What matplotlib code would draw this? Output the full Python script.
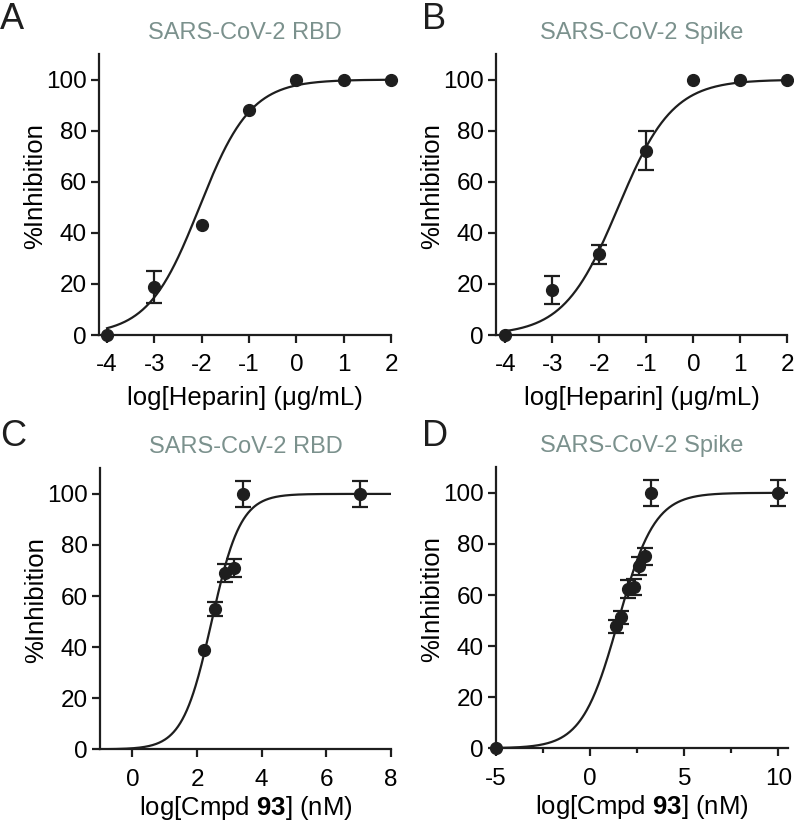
import numpy as np
import matplotlib
matplotlib.use("Agg")
import matplotlib.pyplot as plt

plt.rcParams["font.family"] = ["Liberation Sans", "DejaVu Sans"]
plt.rcParams["mathtext.fontset"] = "custom"
plt.rcParams["mathtext.rm"] = "Liberation Sans"
plt.rcParams["mathtext.bf"] = "Liberation Sans:bold"
plt.rcParams["axes.unicode_minus"] = False

# ==========================================================
# Data
# ==========================================================

# A: heparin vs RBD
hep_x          = [-4, -3, -2, -1, 0, 1, 2]
hep_rbd_y      = [0, 18.9, 43, 88, 100, 100, 100]
hep_rbd_err    = [0, 6.3, 0, 0, 0, 0, 0]
hep_rbd_fit    = (-2.05, 0.80)     # logIC50, hill slope

# B: heparin vs Spike
hep_spike_y    = [0, 17.6, 31.7, 72.2, 100, 100, 100]
hep_spike_err  = [0, 5.5, 3.7, 7.5, 0, 0, 0]
hep_spike_fit  = (-1.60, 0.75)

# C: compound 93 vs RBD
cmpd_rbd_x     = [2.22, 2.55, 2.85, 3.14, 3.43, 7.04]
cmpd_rbd_y     = [38.7, 55, 69, 71, 100, 100]
cmpd_rbd_err   = [0, 2.8, 3.4, 3.7, 5, 5]
cmpd_rbd_fit   = (2.45, 0.97)

# D: compound 93 vs Spike
cmpd_spike_x   = [-5, 1.37, 1.65, 2.0, 2.31, 2.61, 2.93, 3.23, 10]
cmpd_spike_y   = [0, 47.7, 51.3, 62.3, 63.2, 71.4, 75.1, 100, 100]
cmpd_spike_err = [0, 2.5, 2.5, 3.5, 3.0, 3.5, 3.5, 5, 5]
cmpd_spike_fit = (1.50, 0.45)

TITLE_RBD   = "SARS-CoV-2 RBD"
TITLE_SPIKE = "SARS-CoV-2 Spike"
XLAB_HEP    = "log[Heparin] (μg/mL)"
XLAB_CMPD   = r"log[Cmpd $\mathbf{93}$] (nM)"
YLAB        = "%Inhibition"

INK         = "#1e1e1e"
TITLE_COLOR = "#7b918d"


def logistic(x, logic50, hill):
    return 100.0 / (1.0 + 10 ** ((logic50 - x) * hill))


def panel(ax, x, y, err, fit, xlim, curve_from, xticks, title, xlabel,
          minor=None, xlabelpad=7):
    xs = np.linspace(curve_from, xlim[1], 400)
    ax.plot(xs, logistic(xs, *fit), color=INK, lw=1.6, zorder=2)

    x, y, err = np.asarray(x), np.asarray(y), np.asarray(err)
    has_err = err > 0
    ax.errorbar(x[has_err], y[has_err], yerr=err[has_err], fmt="none", ecolor=INK,
                capsize=5.5, elinewidth=1.6, capthick=1.6, clip_on=False, zorder=3)
    ax.plot(x, y, "o", color=INK, ms=8.5, clip_on=False, zorder=4)

    ax.set_xlim(*xlim)
    ax.set_ylim(0, 110)
    ax.set_xticks(xticks)
    if minor is not None:
        ax.set_xticks(minor, minor=True)
    ax.set_yticks([0, 20, 40, 60, 80, 100])

    for s in ["top", "right"]:
        ax.spines[s].set_visible(False)
    for s in ["left", "bottom"]:
        ax.spines[s].set_linewidth(1.6)
        ax.spines[s].set_color(INK)
    ax.tick_params(axis="both", which="major", direction="out", length=6,
                   width=1.6, color=INK, labelsize=17.5)
    ax.tick_params(axis="x", which="major", pad=8)
    ax.tick_params(axis="y", which="major", pad=3)
    ax.tick_params(axis="x", which="minor", direction="out", length=3.5,
                   width=1.6, color=INK)

    ax.set_title(title, fontsize=17, color=TITLE_COLOR, pad=11)
    ax.set_xlabel(xlabel, fontsize=18.5, labelpad=xlabelpad)
    ax.set_ylabel(YLAB, fontsize=18.5)
    ax.yaxis.set_label_coords(-0.178, 0.532)


fig = plt.figure(figsize=(7.94, 8.23), dpi=100)

axA = fig.add_axes([0.1247, 0.5929, 0.3678, 0.3414])
axB = fig.add_axes([0.6247, 0.5929, 0.3669, 0.3414])
axC = fig.add_axes([0.1260, 0.0895, 0.3665, 0.3414])
axD = fig.add_axes([0.6247, 0.0908, 0.3675, 0.3414])

panel(axA, hep_x, hep_rbd_y, hep_rbd_err, hep_rbd_fit,
      (-4.17, 2.0), -4, [-4, -3, -2, -1, 0, 1, 2], TITLE_RBD, XLAB_HEP)
panel(axB, hep_x, hep_spike_y, hep_spike_err, hep_spike_fit,
      (-4.2, 2.0), -4, [-4, -3, -2, -1, 0, 1, 2], TITLE_SPIKE, XLAB_HEP)
panel(axC, cmpd_rbd_x, cmpd_rbd_y, cmpd_rbd_err, cmpd_rbd_fit,
      (-1.0, 8.0), -1.0, [0, 2, 4, 6, 8], TITLE_RBD, XLAB_CMPD, xlabelpad=2.5)
panel(axD, cmpd_spike_x, cmpd_spike_y, cmpd_spike_err, cmpd_spike_fit,
      (-5.0, 10.5), -5.0, [-5, 0, 5, 10], TITLE_SPIKE, XLAB_CMPD,
      minor=[-2.5, 2.5, 7.5], xlabelpad=2.5)

# panel letters (baseline placed)
for lab, (fx, fy) in zip("ABCD", [(0.000, 0.9645), (0.5315, 0.9645),
                                  (0.000, 0.4581), (0.5315, 0.4581)]):
    fig.text(fx, fy, lab, fontsize=26, ha="left", va="baseline", color=INK)

fig.savefig("out.png", dpi=100)
